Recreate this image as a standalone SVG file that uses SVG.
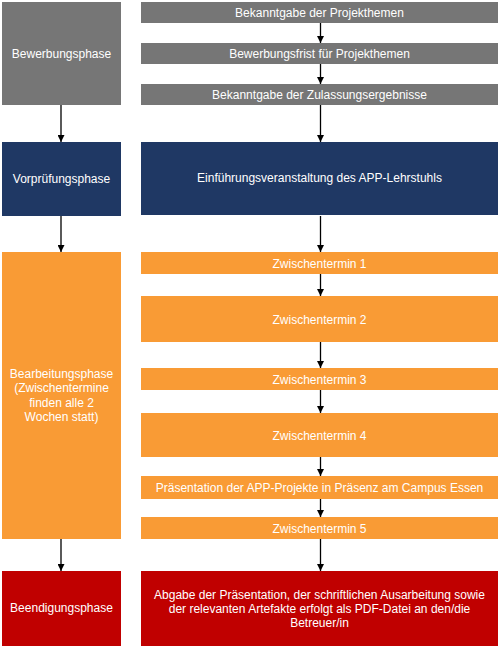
<svg xmlns="http://www.w3.org/2000/svg" width="499" height="648" viewBox="0 0 499 648">
<style>
.g{fill:#767676}.b{fill:#1F3864}.o{fill:#F99B35}.r{fill:#C00000}
text{font-family:"Liberation Sans",Arial,sans-serif;font-size:12px;fill:#FFFFFF;text-anchor:middle}
.c line{stroke:#000;stroke-width:1.3;marker-end:url(#ah)}
</style>
<defs>
<marker id="ah" markerUnits="userSpaceOnUse" markerWidth="7" markerHeight="7" refX="7" refY="3.5" orient="auto">
<path d="M0,0 L7,3.5 L0,7 z" fill="#000"/>
</marker>
</defs>
<rect width="499" height="648" fill="#fff"/>
<g id="bewerbungsphase"><rect class="g" x="2" y="2" width="119" height="103"/><text x="61.5" y="58">Bewerbungsphase</text></g>
<g id="bekanntgabe-themen"><rect class="g" x="141" y="2" width="357" height="21"/><text x="319.5" y="17">Bekanntgabe der Projekthemen</text></g>
<g id="bewerbungsfrist"><rect class="g" x="141" y="43" width="357" height="21"/><text x="319.5" y="58">Bewerbungsfrist für Projekthemen</text></g>
<g id="bekanntgabe-zulassung"><rect class="g" x="141" y="84" width="357" height="21"/><text x="319.5" y="99">Bekanntgabe der Zulassungsergebnisse</text></g>
<g id="vorpruefungsphase"><rect class="b" x="2" y="142" width="119" height="74"/><text x="61.5" y="183">Vorprüfungsphase</text></g>
<g id="einfuehrung"><rect class="b" x="141" y="142" width="357" height="73"/><text x="319.5" y="182">Einführungsveranstaltung des APP-Lehrstuhls</text></g>
<g id="bearbeitungsphase"><rect class="o" x="2" y="252" width="119" height="287"/>
<text x="61.5" y="378">Bearbeitungsphase</text>
<text x="61.5" y="392">(Zwischentermine</text>
<text x="61.5" y="407">finden alle 2</text>
<text x="61.5" y="421">Wochen statt)</text></g>
<g id="zw1"><rect class="o" x="141" y="252" width="357" height="22"/><text x="319.5" y="267.5">Zwischentermin 1</text></g>
<g id="zw2"><rect class="o" x="141" y="296" width="357" height="46"/><text x="319.5" y="323.5">Zwischentermin 2</text></g>
<g id="zw3"><rect class="o" x="141" y="368" width="357" height="22"/><text x="319.5" y="383.5">Zwischentermin 3</text></g>
<g id="zw4"><rect class="o" x="141" y="413" width="357" height="44"/><text x="319.5" y="439.5">Zwischentermin 4</text></g>
<g id="praesentation"><rect class="o" x="141" y="476" width="357" height="23"/><text x="319.5" y="491.5">Präsentation der APP-Projekte in Präsenz am Campus Essen</text></g>
<g id="zw5"><rect class="o" x="141" y="517" width="357" height="22"/><text x="319.5" y="532.5">Zwischentermin 5</text></g>
<g id="beendigungsphase"><rect class="r" x="2" y="571" width="119" height="75"/><text x="61.5" y="612">Beendigungsphase</text></g>
<g id="abgabe"><rect class="r" x="141" y="571" width="357" height="75"/>
<text x="319.5" y="598.5">Abgabe der Präsentation, der schriftlichen Ausarbeitung sowie</text>
<text x="319.5" y="612.5">der relevanten Artefakte erfolgt als PDF-Datei an den/die</text>
<text x="319.5" y="627">Betreuer/in</text></g>
<g id="connectors" class="c">
<line x1="320.5" y1="23" x2="320.5" y2="43"/>
<line x1="320.5" y1="64" x2="320.5" y2="84"/>
<line x1="320.5" y1="105" x2="320.5" y2="142"/>
<line x1="320.5" y1="216" x2="320.5" y2="252"/>
<line x1="320.5" y1="274" x2="320.5" y2="296"/>
<line x1="320.5" y1="342" x2="320.5" y2="368"/>
<line x1="320.5" y1="390" x2="320.5" y2="413"/>
<line x1="320.5" y1="457" x2="320.5" y2="476"/>
<line x1="320.5" y1="499" x2="320.5" y2="517"/>
<line x1="320.5" y1="539" x2="320.5" y2="571"/>
<line x1="61" y1="105" x2="61" y2="142"/>
<line x1="61" y1="216" x2="61" y2="252"/>
<line x1="61" y1="539" x2="61" y2="571"/>
</g>
</svg>
